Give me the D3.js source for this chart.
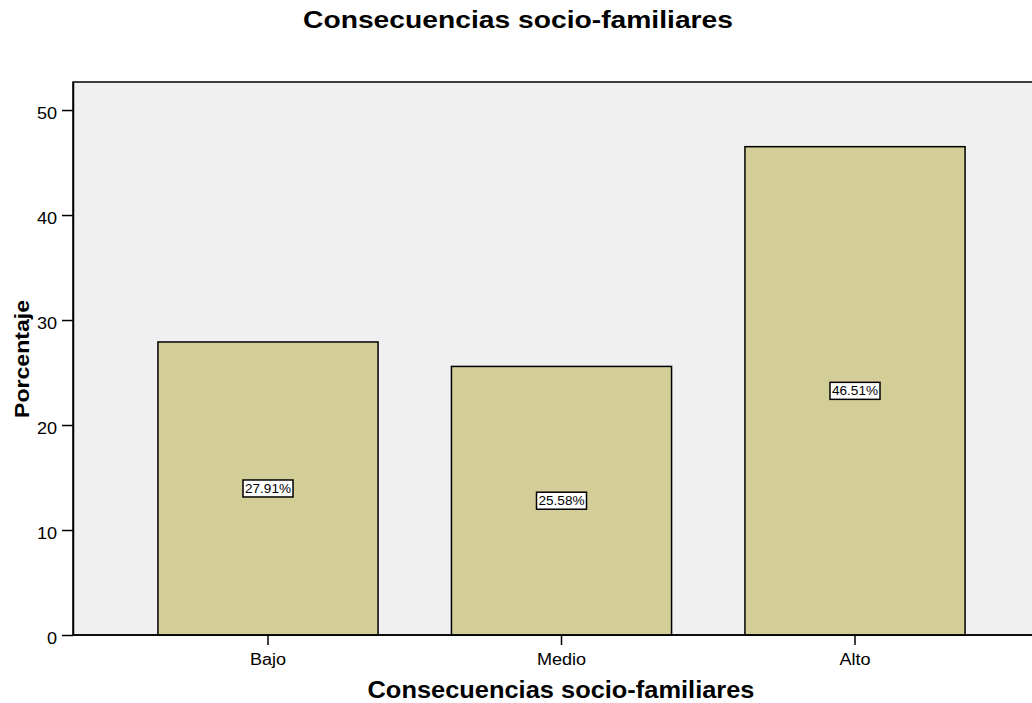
<!DOCTYPE html>
<html>
<head>
<meta charset="utf-8">
<script src="https://cdn.jsdelivr.net/npm/d3@7"></script>
<style>
  body { margin: 0; background: #fff; }
  text { font-family: "Liberation Sans", Arial, sans-serif; }
</style>
</head>
<body>
<svg id="chart" width="1032" height="703"></svg>
<script>
// Percentages by level of socio-family consequences
const categories = ["Bajo", "Medio", "Alto"];
const values = [27.91, 25.58, 46.51];
const yTicks = [0, 10, 20, 30, 40, 50];
const chartTitle = "Consecuencias socio-familiares";
const xTitle = "Consecuencias socio-familiares";
const yTitle = "Porcentaje";

const svg = d3.select("#chart");
const plot = { left: 73, top: 82, right: 1034, bottom: 635 };

// Widen glyphs horizontally by factor k (keeps the anchor point)
function stretch(sel, k) {
  sel.each(function () {
    const w = this.getComputedTextLength();
    d3.select(this).attr("textLength", w * k).attr("lengthAdjust", "spacingAndGlyphs");
  });
}

const y = d3.scaleLinear().domain([0, 52.67]).range([plot.bottom, plot.top]);
const x = d3.scaleBand()
  .domain(categories)
  .range([121.25, 1001.75])
  .paddingInner(0.25)
  .paddingOuter(0.125);

// Plot background and frame
svg.append("rect")
  .attr("x", plot.left).attr("y", plot.top)
  .attr("width", plot.right - plot.left).attr("height", plot.bottom - plot.top)
  .attr("fill", "#f0f0f0").attr("stroke", "#000").attr("stroke-width", 1.5);

// Bars
svg.append("g").selectAll("rect")
  .data(categories)
  .join("rect")
  .attr("x", d => x(d))
  .attr("y", (d, i) => y(values[i]))
  .attr("width", x.bandwidth())
  .attr("height", (d, i) => y(0) - y(values[i]))
  .attr("fill", "#d3ce97")
  .attr("stroke", "#000")
  .attr("stroke-width", 1.5);

// Y axis
const yAxis = svg.append("g")
  .attr("transform", `translate(${plot.left},0)`)
  .call(d3.axisLeft(y).tickValues(yTicks).tickFormat(d3.format("d")).tickSize(11).tickSizeOuter(0));
yAxis.select(".domain").attr("stroke", "#000").attr("stroke-width", 1.5);
yAxis.selectAll(".tick line").attr("stroke", "#000").attr("stroke-width", 1.5);
yAxis.selectAll(".tick text")
  .attr("font-size", 16).attr("fill", "#000")
  .attr("x", -16).attr("y", 3)
  .attr("font-family", "'Liberation Sans', Arial, sans-serif")
  .call(stretch, 1.13);

// X axis
const xAxis = svg.append("g")
  .attr("transform", `translate(0,${plot.bottom})`)
  .call(d3.axisBottom(x).tickSize(10).tickSizeOuter(0));
xAxis.select(".domain").remove();
xAxis.selectAll(".tick line").attr("stroke", "#000").attr("stroke-width", 1.5);
xAxis.selectAll(".tick text")
  .attr("font-size", 16).attr("fill", "#000")
  .attr("y", 30).attr("dy", 0)
  .attr("font-family", "'Liberation Sans', Arial, sans-serif")
  .call(stretch, 1.13);
svg.append("line")
  .attr("x1", plot.left).attr("x2", plot.right)
  .attr("y1", plot.bottom).attr("y2", plot.bottom)
  .attr("stroke", "#000").attr("stroke-width", 1.5);

// Value labels in boxes
const fmt = d => d.toFixed(2) + "%";
const labels = svg.append("g").selectAll("g")
  .data(categories)
  .join("g")
  .attr("transform", (d, i) => `translate(${x(d) + x.bandwidth() / 2},${(y(0) + y(values[i])) / 2})`);
labels.append("rect")
  .attr("x", -25).attr("y", -8.5).attr("width", 50).attr("height", 17)
  .attr("fill", "#fff").attr("stroke", "#000").attr("stroke-width", 1.5);
labels.append("text")
  .attr("text-anchor", "middle").attr("dy", "0.36em")
  .attr("font-size", 12).attr("fill", "#000")
  .text((d, i) => fmt(values[i]))
  .call(stretch, 1.13);

// Titles
svg.append("text")
  .attr("x", 518).attr("y", 28)
  .attr("text-anchor", "middle").attr("font-size", 24).attr("font-weight", "bold")
  .attr("textLength", 430).attr("lengthAdjust", "spacingAndGlyphs")
  .text(chartTitle);
svg.append("text")
  .attr("x", 561).attr("y", 698)
  .attr("text-anchor", "middle").attr("font-size", 24).attr("font-weight", "bold")
  .attr("textLength", 387).attr("lengthAdjust", "spacingAndGlyphs")
  .text(xTitle);
svg.append("text")
  .attr("transform", `translate(29,359) rotate(-90)`)
  .attr("text-anchor", "middle").attr("font-size", 20).attr("font-weight", "bold")
  .attr("textLength", 118).attr("lengthAdjust", "spacingAndGlyphs")
  .text(yTitle);
</script>
</body>
</html>
